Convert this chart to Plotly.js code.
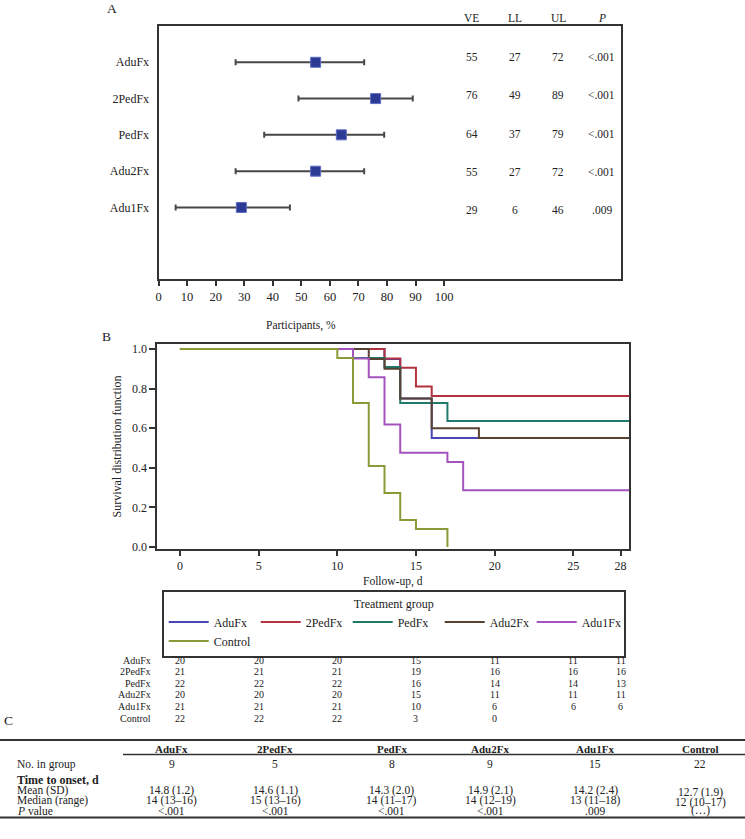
<!DOCTYPE html>
<html><head><meta charset="utf-8">
<script src="https://cdn.plot.ly/plotly-3.0.1.min.js"></script>
<style>html,body{margin:0;padding:0;background:#fff}#chart{width:745px;height:839px}</style>
</head><body><div id="chart"></div>
<script>
// ---------- Panel A: vaccine efficacy ----------
const groupsA = ['AduFx','2PedFx','PedFx','Adu2Fx','Adu1Fx'];
const ve = [55,76,64,55,29];
const ll = [27,49,37,27,6];
const ul = [72,89,79,72,46];
const pA = ['<.001','<.001','<.001','<.001','.009'];
const tickValsA = [0,10,20,30,40,50,60,70,80,90,100];

// ---------- Panel B: Kaplan-Meier ----------
const kmGroups = ['AduFx','2PedFx','PedFx','Adu2Fx','Adu1Fx','Control'];
const kmColors = ['#4646b4','#b3323f','#1f7a6c','#5a4232','#a452bc','#8a9a36'];
const tAduFx   = [0,13,14,16,29];
const sAduFx   = [1,0.95,0.75,0.55,0.55];
const t2PedFx  = [0,13,14,15,16,29];
const s2PedFx  = [1,0.952,0.905,0.810,0.762,0.762];
const tPedFx   = [0,11,13,14,17,29];
const sPedFx   = [1,0.955,0.909,0.727,0.636,0.636];
const tAdu2Fx  = [0,12,13,14,16,19,29];
const sAdu2Fx  = [1,0.95,0.90,0.75,0.60,0.55,0.55];
const tAdu1Fx  = [0,11,12,13,14,17,18,29];
const sAdu1Fx  = [1,0.952,0.857,0.619,0.476,0.429,0.286,0.286];
const tControl = [0,10,11,12,13,14,15,17];
const sControl = [1,0.955,0.727,0.409,0.273,0.136,0.091,0];
const kmT = [tAduFx,t2PedFx,tPedFx,tAdu2Fx,tAdu1Fx,tControl];
const kmS = [sAduFx,s2PedFx,sPedFx,sAdu2Fx,sAdu1Fx,sControl];
const tickValsB = [0,5,10,15,20,25,28];

const riskTimes   = [0,5,10,15,20,25,28];
const riskAduFx   = [20,20,20,15,11,11,11];
const risk2PedFx  = [21,21,21,19,16,16,16];
const riskPedFx   = [22,22,22,16,14,14,13];
const riskAdu2Fx  = [20,20,20,15,11,11,11];
const riskAdu1Fx  = [21,21,21,10,6,6,6];
const riskControl = [22,22,22,3,0];
const riskRows = [riskAduFx,risk2PedFx,riskPedFx,riskAdu2Fx,riskAdu1Fx,riskControl];

// ---------- Panel C: time to onset table ----------
const groupsC = ['AduFx','2PedFx','PedFx','Adu2Fx','Adu1Fx','Control'];
const nInGroup = [9,5,8,9,15,22];
const meanOnset = [14.8,14.6,14.3,14.9,14.2,12.7];
const sdOnset = [1.2,1.1,2.0,2.1,2.4,1.9];
const medianOnset = [14,15,14,14,13,12];
const rangeLo = [13,13,11,12,11,10];
const rangeHi = [16,16,17,19,18,17];
const pC = ['<.001','<.001','<.001','<.001','.009','(…)'];

// ---------- layout helpers ----------
const W = 745, H = 839, ML = 157, MR = 116;
const GW = W - ML - MR;
const px = x => (x - ML) / GW;
const py = y => 1 - y / H;
const esc = s => String(s).replace(/</g,'&lt;');
const FONT = "'Liberation Serif', 'DejaVu Serif', serif";
const TXT = '#222';
const LINE = '#333';
const f = (s, c) => ({family:FONT, size:s, color:c || TXT});

const traces = [];
traces.push({
  type:'scatter', mode:'markers', x: ve, y: groupsA, xaxis:'x', yaxis:'y',
  marker:{symbol:'square', size:10, color:'#2b3a92', line:{color:'#5d6cc6', width:1}},
  error_x:{type:'data', symmetric:false,
    array: ul.map((u,i)=>u-ve[i]), arrayminus: ve.map((v,i)=>v-ll[i]),
    color:'#474747', thickness:2, width:3},
  showlegend:false, hoverinfo:'x+y'
});
kmGroups.forEach((g,i)=>{
  traces.push({type:'scatter', mode:'lines', name:g, x: kmT[i], y: kmS[i],
    xaxis:'x2', yaxis:'y2', line:{shape:'hv', color:kmColors[i], width:2}});
});

const ann = [];
const A = (o) => ann.push(Object.assign({showarrow:false, xanchor:'center', yanchor:'middle',
  xref:'paper', yref:'paper', font:f(11)}, o));

// panel letters
A({text:'A', x:px(112), y:py(9), font:f(13.5)});
A({text:'B', x:px(106), y:py(336), font:f(13.5)});
A({text:'C', x:px(8), y:py(720), font:f(13.5)});

// panel A side table
const colA = [471.7,515,558.3,601.7];
['VE','LL','UL','<i>P</i>'].forEach((h,j)=>A({text:h, x:px(colA[j]), y:py(18.3), font:f(11.5)}));
groupsA.forEach((g,i)=>{
  const yy = py(57 + 38.3*i);
  [ve[i], ll[i], ul[i], esc(pA[i])].forEach((v,j)=>A({text:String(v), x:px(colA[j]), y:yy, font:f(11.5)}));
});
A({text:'Participants, %', x:px(301), y:py(326), font:f(11.5)});

// panel B titles
A({text:'Survival distribution function', x:px(116.5), y:py(447), textangle:-90, font:f(12)});
A({text:'Follow-up, d', x:px(393), y:py(581), font:f(11.5)});

// risk table
kmGroups.forEach((g,i)=>{
  const yy = py(660 + 11.6*i);
  A({text:g, x:px(153), xanchor:'right', y:yy, font:f(10)});
  riskRows[i].forEach((v,j)=>A({text:String(v), xref:'x2', x:riskTimes[j], y:yy, font:f(10)}));
});

// panel C table
const colC = [171.7,275,391.7,490,595,700];
const TS = 11.5;
groupsC.forEach((g,i)=>{
  const x = px(colC[i]);
  A({text:'<b>'+g+'</b>', x, y:py(748.5), font:f(11)});
  A({text:String(nInGroup[i]), x, y:py(764), font:f(TS)});
  const dy = (g==='Control') ? 2 : 0;
  A({text:meanOnset[i].toFixed(1)+' ('+sdOnset[i].toFixed(1)+')', x, y:py(790+dy), font:f(TS)});
  A({text:medianOnset[i]+' ('+rangeLo[i]+'–'+rangeHi[i]+')', x, y:py(800+dy), font:f(TS)});
  A({text:esc(pC[i]), x, y:py(810.5), font:f(TS)});
});
[['No. in group',764,false],['Time to onset, d',779.5,true],['Mean (SD)',790,false],['Median (range)',800,false],['<i>P</i> value',810.5,false]].forEach(r=>{
  A({text: r[2] ? '<b>'+r[0]+'</b>' : r[0], x:px(15), xanchor:'left', y:py(r[1]), font:f(r[2]?12:TS)});
});

const shapes = [
  {type:'line', xref:'paper', yref:'paper', x0:px(0), x1:px(745), y0:py(740), y1:py(740), line:{color:LINE, width:2}},
  {type:'line', xref:'paper', yref:'paper', x0:px(123), x1:px(745), y0:py(754.5), y1:py(754.5), line:{color:LINE, width:1.5}},
  {type:'line', xref:'paper', yref:'paper', x0:px(0), x1:px(745), y0:py(817.5), y1:py(817.5), line:{color:LINE, width:2}}
];

const axBase = {showgrid:false, zeroline:false, showline:true, mirror:true, linecolor:LINE, linewidth:2,
  tickfont:f(12), tickcolor:LINE, tickwidth:1.5, fixedrange:true};

const layout = {
  width:W, height:H, margin:{l:ML, r:MR, t:0, b:0, pad:0},
  paper_bgcolor:'#fff', plot_bgcolor:'#fff',
  font:f(11),
  xaxis: Object.assign({}, axBase, {domain:[px(158.5), px(621.3)], range:[0,162], tickvals:tickValsA,
    ticks:'outside', ticklen:5, anchor:'y', tickfont:f(12.5)}),
  yaxis: Object.assign({}, axBase, {domain:[py(279.3), py(26)], type:'category',
    categoryorder:'array', categoryarray: groupsA.slice().reverse(), range:[-1.98, 5.0],
    ticks:'', ticklabelstandoff:5, anchor:'x'}),
  xaxis2: Object.assign({}, axBase, {domain:[px(157.3), px(629)], range:[-1.44, 28.54], tickvals:tickValsB,
    ticks:'outside', ticklen:5, anchor:'y2'}),
  yaxis2: Object.assign({}, axBase, {domain:[py(549), py(344.3)], range:[-0.0101, 1.0237],
    tickvals:[0,0.2,0.4,0.6,0.8,1.0], tickformat:'.1f', ticks:'outside', ticklen:6, anchor:'x2'}),
  legend:{orientation:'h', x:px(161.7), xanchor:'left', y:py(590), yanchor:'top',
    bordercolor:LINE, borderwidth:2, bgcolor:'rgba(0,0,0,0)',
    font:f(12),
    title:{text:'Treatment group', side:'top center', font:f(12)},
    itemwidth:40, entrywidth:37, entrywidthmode:'pixels', traceorder:'normal', itemclick:false, itemdoubleclick:false},
  annotations: ann, shapes: shapes, showlegend:true
};

Plotly.newPlot('chart', traces, layout, {displayModeBar:false});
</script></body></html>
